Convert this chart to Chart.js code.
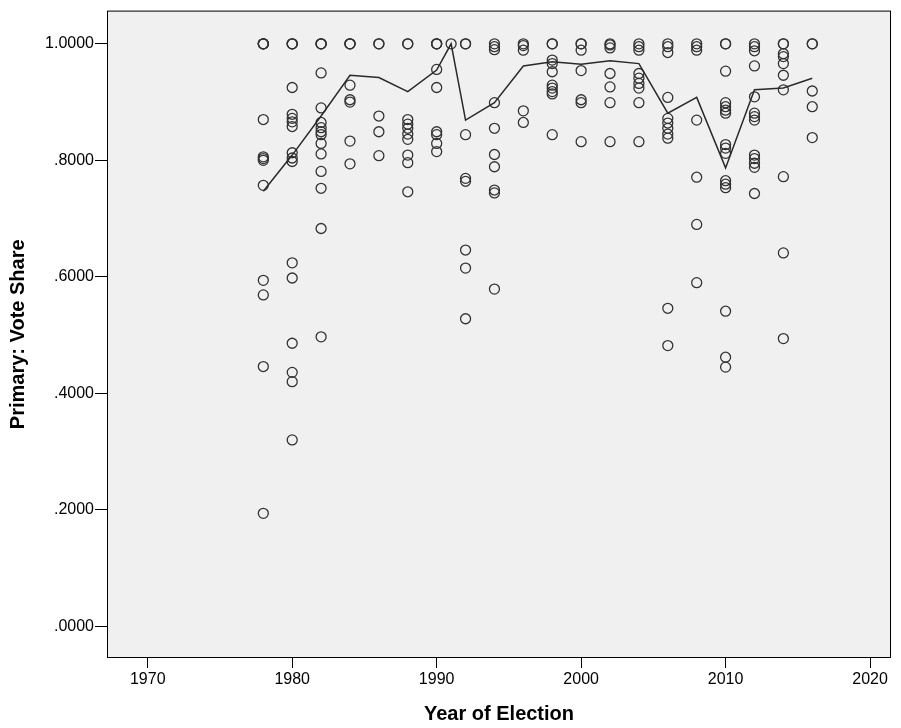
<!DOCTYPE html>
<html>
<head>
<meta charset="utf-8">
<script src="https://cdn.jsdelivr.net/npm/chart.js@4"></script>
<style>
  html, body { margin: 0; padding: 0; background: #fff; }
  #wrap { width: 901px; height: 728px; }
</style>
</head>
<body>
<div id="wrap"><canvas id="chart" width="901" height="728"></canvas></div>
<script>
// ─── Data ───────────────────────────────────────────────────
const electionYears = [1978, 1980, 1982, 1984, 1986, 1988, 1990, 1991, 1992, 1994, 1996,
  1998, 2000, 2002, 2004, 2006, 2008, 2010, 2012, 2014, 2016];

const sharesByYear = [
  [1, 1, 1, 1, 0.870, 0.806, 0.803, 0.800, 0.757, 0.594, 0.569, 0.446, 0.194],
  [1, 1, 1, 0.925, 0.879, 0.872, 0.866, 0.858, 0.813, 0.804, 0.798, 0.624, 0.598, 0.486, 0.436, 0.420, 0.320],
  [1, 1, 1, 0.950, 0.890, 0.865, 0.856, 0.849, 0.844, 0.829, 0.811, 0.781, 0.752, 0.683, 0.497],
  [1, 1, 1, 0.929, 0.904, 0.900, 0.833, 0.794],
  [1, 1, 0.876, 0.849, 0.808],
  [1, 1, 0.870, 0.862, 0.855, 0.845, 0.836, 0.809, 0.796, 0.746],
  [1, 1, 1, 0.956, 0.925, 0.849, 0.844, 0.829, 0.815],
  [1],
  [1, 1, 0.844, 0.769, 0.764, 0.646, 0.615, 0.528],
  [1, 0.995, 0.990, 0.899, 0.855, 0.810, 0.789, 0.749, 0.744, 0.579],
  [1, 0.997, 0.989, 0.885, 0.865],
  [1, 1, 0.972, 0.966, 0.952, 0.929, 0.924, 0.918, 0.914, 0.844],
  [1, 1, 0.989, 0.954, 0.904, 0.899, 0.832],
  [1, 0.998, 0.993, 0.949, 0.926, 0.899, 0.832],
  [1, 0.995, 0.989, 0.949, 0.941, 0.932, 0.924, 0.899, 0.832],
  [1, 0.995, 0.985, 0.908, 0.872, 0.864, 0.855, 0.845, 0.838, 0.546, 0.482],
  [1, 0.995, 0.989, 0.869, 0.771, 0.690, 0.590],
  [1, 1, 0.953, 0.899, 0.892, 0.886, 0.881, 0.827, 0.821, 0.812, 0.765, 0.759, 0.753, 0.541, 0.462, 0.445],
  [1, 0.995, 0.988, 0.962, 0.909, 0.881, 0.875, 0.869, 0.809, 0.803, 0.795, 0.788, 0.743],
  [1, 1, 0.983, 0.978, 0.966, 0.946, 0.921, 0.772, 0.641, 0.494],
  [1, 1, 0.919, 0.892, 0.839],
];

// mean line as drawn
const meanShares = [0.747, 0.809, 0.876, 0.946, 0.942, 0.918, 0.955, 1.0, 0.869, 0.899, 0.962,
  0.969, 0.965, 0.971, 0.966, 0.881, 0.908, 0.787, 0.921, 0.924, 0.941];

const xTicks = [1970, 1980, 1990, 2000, 2010, 2020];
const yTicks = [0, 0.2, 0.4, 0.6, 0.8, 1.0];

// ─── Chart ──────────────────────────────────────────────────
const FONT = "'Liberation Sans', Arial, sans-serif";

const scatterPoints = [];
electionYears.forEach((yr, i) => {
  sharesByYear[i].forEach(v => scatterPoints.push({ x: yr, y: v }));
});
const meanPoints = electionYears.map((yr, i) => ({ x: yr, y: meanShares[i] }));

// plot frame + grey background
const framePlugin = {
  id: 'frame',
  beforeDraw(chart) {
    const { ctx, chartArea: a } = chart;
    ctx.save();
    ctx.fillStyle = '#F0F0F0';
    ctx.fillRect(a.left, a.top, a.right - a.left, a.bottom - a.top);
    ctx.restore();
  },
  afterDraw(chart) {
    const { ctx, chartArea: a } = chart;
    ctx.save();
    ctx.strokeStyle = '#000';
    ctx.lineWidth = 1;
    ctx.strokeRect(a.left + 0.5, a.top + 0.5, a.right - a.left - 1, a.bottom - a.top - 1);
    ctx.restore();
  },
};

new Chart(document.getElementById('chart'), {
  type: 'scatter',
  data: {
    datasets: [
      {
        type: 'line',
        label: 'Mean',
        data: meanPoints,
        borderColor: '#2a2a2a',
        borderWidth: 1.5,
        pointRadius: 0,
        tension: 0,
        fill: false,
      },
      {
        label: 'Vote Share',
        data: scatterPoints,
        pointRadius: 5,
        pointBorderWidth: 1.3,
        pointBorderColor: '#333',
        pointBackgroundColor: 'rgba(0,0,0,0)',
      },
    ],
  },
  options: {
    responsive: false,
    animation: false,
    layout: { padding: { top: 9, right: 10, left: 0, bottom: 0 } },
    plugins: { legend: { display: false }, tooltip: { enabled: false } },
    scales: {
      x: {
        type: 'linear',
        min: 1967.18,
        max: 2021.45,
        afterBuildTicks: s => { s.ticks = xTicks.map(v => ({ value: v })); },
        afterFit: s => { s.height = 70; },
        grid: { drawOnChartArea: false, drawTicks: true, tickLength: 10, color: '#000' },
        border: { display: false },
        ticks: {
          color: '#000',
          padding: 2,
          font: { size: 16, family: FONT },
          callback: v => String(v),
        },
        title: {
          display: true,
          text: 'Year of Election',
          color: '#000',
          padding: { top: 0, bottom: 2 },
          font: { size: 20, weight: 'bold', family: FONT },
        },
      },
      y: {
        min: -0.0543,
        max: 1.057,
        afterBuildTicks: s => { s.ticks = yTicks.map(v => ({ value: v })); },
        afterFit: s => { s.width = 107; },
        grid: { drawOnChartArea: false, drawTicks: true, tickLength: 12, color: '#000' },
        border: { display: false },
        ticks: {
          color: '#000',
          padding: 1,
          font: { size: 16, family: FONT },
          callback: v => {
            const s = Number(v).toFixed(4);
            return s.startsWith('0') ? s.slice(1) : s;
          },
        },
        title: {
          display: true,
          text: 'Primary: Vote Share',
          color: '#000',
          padding: { top: 6, bottom: 0 },
          font: { size: 20, weight: 'bold', family: FONT },
        },
      },
    },
  },
  plugins: [framePlugin],
});
</script>
</body>
</html>
